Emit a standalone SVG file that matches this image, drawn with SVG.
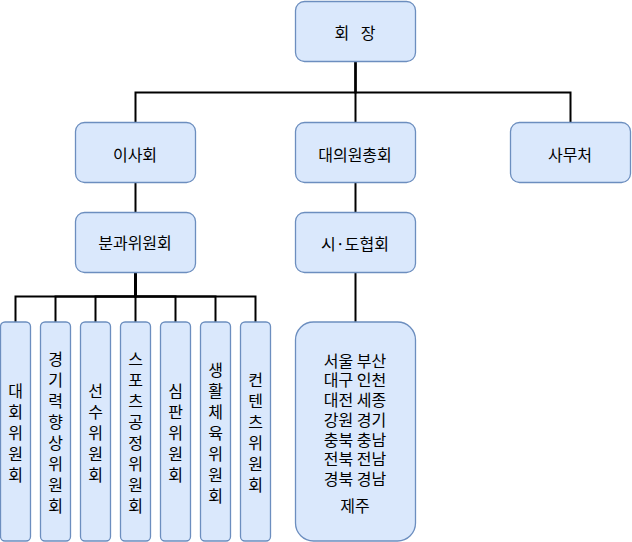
<svg xmlns="http://www.w3.org/2000/svg" width="632" height="542" viewBox="0 0 632 542">
<style>
.box{fill:#dae8fc;stroke:#6c8ebf;stroke-width:1.3}
.t{font-family:"Noto Sans CJK KR","Noto Sans",sans-serif;font-size:16px;fill:#000;text-anchor:middle;dominant-baseline:central}
.e{fill:none;stroke:#000;stroke-width:2}
</style>
<rect width="632" height="542" fill="#fff"/>
<g id="connectors">
<path class="e" d="M355.5 61V92.5H135.5V122"/>
<path class="e" d="M355.5 61V122"/>
<path class="e" d="M355.5 61V92.5H570.5V122"/>
<path class="e" d="M135.5 182V212"/>
<path class="e" d="M355.5 182V212"/>
<path class="e" d="M355.5 272V322"/>
<path class="e" d="M135.5 272V296.5H15.5V322"/>
<path class="e" d="M135.5 272V296.5H55.5V322"/>
<path class="e" d="M135.5 272V296.5H95.5V322"/>
<path class="e" d="M135.5 272V322"/>
<path class="e" d="M135.5 272V296.5H175.5V322"/>
<path class="e" d="M135.5 272V296.5H215.5V322"/>
<path class="e" d="M135.5 272V296.5H255.5V322"/>
</g>
<g id="n-president">
<rect class="box" x="295.5" y="1.5" width="120" height="60" rx="9"/>
<text class="t" x="355" y="31.5" word-spacing="8">회 장</text>
</g>
<g id="n-board">
<rect class="box" x="75.5" y="122.5" width="120" height="60" rx="9"/>
<text class="t" x="135" y="154">이사회</text>
</g>
<g id="n-assembly">
<rect class="box" x="295.5" y="122.5" width="120" height="60" rx="9"/>
<text class="t" x="355" y="154">대의원총회</text>
</g>
<g id="n-secretariat">
<rect class="box" x="510.5" y="122.5" width="120" height="60" rx="9"/>
<text class="t" x="570" y="154">사무처</text>
</g>
<g id="n-subcommittee">
<rect class="box" x="75.5" y="212.5" width="120" height="60" rx="9"/>
<text class="t" x="135" y="242">분과위원회</text>
</g>
<g id="n-provincial">
<rect class="box" x="295.5" y="212.5" width="120" height="60" rx="9"/>
<text class="t" x="355" y="243">시·도협회</text>
</g>
<g id="n-regions">
<rect class="box" x="295.5" y="322" width="120" height="219" rx="18"/>
<text class="t" x="355"><tspan x="355" y="359.7">서울 부산</tspan><tspan x="355" y="379.4">대구 인천</tspan><tspan x="355" y="399.1">대전 세종</tspan><tspan x="355" y="418.8">강원 경기</tspan><tspan x="355" y="438.5">충북 충남</tspan><tspan x="355" y="458.2">전북 전남</tspan><tspan x="355" y="477.9">경북 경남</tspan><tspan x="355" y="505">제주</tspan></text>
</g>
<g id="n-c1">
<rect class="box" x="0.5" y="322" width="30" height="219" rx="4.5"/>
<text class="t"><tspan x="15.5" y="389.5">대</tspan><tspan x="15.5" y="410.5">회</tspan><tspan x="15.5" y="431.5">위</tspan><tspan x="15.5" y="452.5">원</tspan><tspan x="15.5" y="473.5">회</tspan></text>
</g>
<g id="n-c2">
<rect class="box" x="40.5" y="322" width="30" height="219" rx="4.5"/>
<text class="t"><tspan x="55.5" y="358">경</tspan><tspan x="55.5" y="379">기</tspan><tspan x="55.5" y="400">력</tspan><tspan x="55.5" y="421">향</tspan><tspan x="55.5" y="442">상</tspan><tspan x="55.5" y="463">위</tspan><tspan x="55.5" y="484">원</tspan><tspan x="55.5" y="505">회</tspan></text>
</g>
<g id="n-c3">
<rect class="box" x="80.5" y="322" width="30" height="219" rx="4.5"/>
<text class="t"><tspan x="95.5" y="389.5">선</tspan><tspan x="95.5" y="410.5">수</tspan><tspan x="95.5" y="431.5">위</tspan><tspan x="95.5" y="452.5">원</tspan><tspan x="95.5" y="473.5">회</tspan></text>
</g>
<g id="n-c4">
<rect class="box" x="120.5" y="322" width="30" height="219" rx="4.5"/>
<text class="t"><tspan x="135.5" y="358">스</tspan><tspan x="135.5" y="379">포</tspan><tspan x="135.5" y="400">츠</tspan><tspan x="135.5" y="421">공</tspan><tspan x="135.5" y="442">정</tspan><tspan x="135.5" y="463">위</tspan><tspan x="135.5" y="484">원</tspan><tspan x="135.5" y="505">회</tspan></text>
</g>
<g id="n-c5">
<rect class="box" x="160.5" y="322" width="30" height="219" rx="4.5"/>
<text class="t"><tspan x="175.5" y="389.5">심</tspan><tspan x="175.5" y="410.5">판</tspan><tspan x="175.5" y="431.5">위</tspan><tspan x="175.5" y="452.5">원</tspan><tspan x="175.5" y="473.5">회</tspan></text>
</g>
<g id="n-c6">
<rect class="box" x="200.5" y="322" width="30" height="219" rx="4.5"/>
<text class="t"><tspan x="215.5" y="368.5">생</tspan><tspan x="215.5" y="389.5">활</tspan><tspan x="215.5" y="410.5">체</tspan><tspan x="215.5" y="431.5">육</tspan><tspan x="215.5" y="452.5">위</tspan><tspan x="215.5" y="473.5">원</tspan><tspan x="215.5" y="494.5">회</tspan></text>
</g>
<g id="n-c7">
<rect class="box" x="240.5" y="322" width="30" height="219" rx="4.5"/>
<text class="t"><tspan x="255.5" y="379">컨</tspan><tspan x="255.5" y="400">텐</tspan><tspan x="255.5" y="421">츠</tspan><tspan x="255.5" y="442">위</tspan><tspan x="255.5" y="463">원</tspan><tspan x="255.5" y="484">회</tspan></text>
</g>
</svg>
